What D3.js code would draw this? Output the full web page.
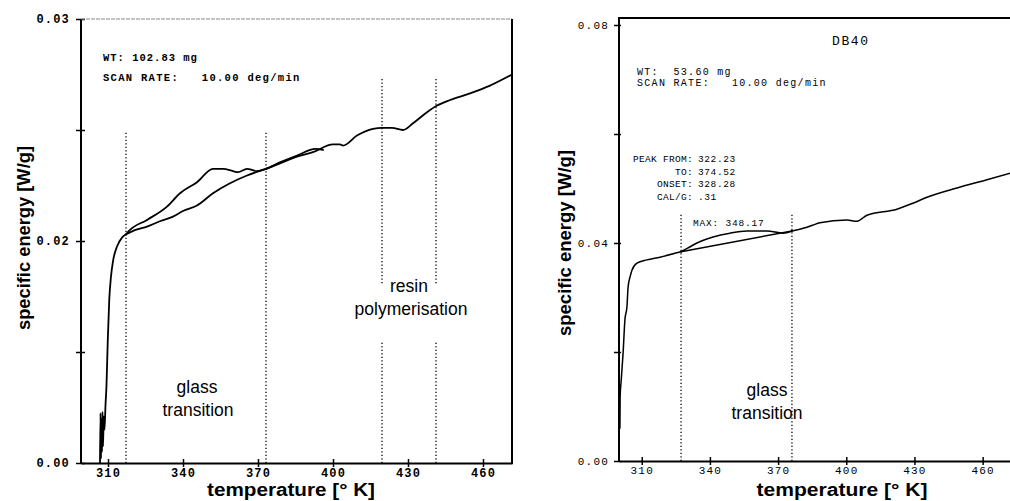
<!DOCTYPE html>
<html>
<head>
<meta charset="utf-8">
<script src="https://cdn.jsdelivr.net/npm/d3@7"></script>
<style>
  body { margin: 0; background: #fff; }
  svg { display: block; }
  .mono { font-family: "Liberation Mono", "DejaVu Sans Mono", monospace; }
  .sans { font-family: "Liberation Sans", Arial, sans-serif; }
</style>
</head>
<body>
<div id="container"></div>
<script>
let w = 1010;
let h = 501;

// ---- data ----
let xTicks = [310, 340, 370, 400, 430, 460];

// left scan (two runs sharing rise and tail)
let leftYTicks = [0, 0.01, 0.02, 0.03, 0.04];
let leftYLabels = ["0.00", "", "0.02", "", "0.03"];
let leftRise = [[306.8,0.0000],[307.0,0.0045],[307.2,0.0004],[307.4,0.0040],[307.6,0.0010],[307.8,0.0046],
  [308.0,0.0015],[308.3,0.0042],[308.6,0.0030],[309.0,0.0052],[309.4,0.0070],[309.9,0.0110],[310.5,0.0147],
  [311.2,0.0168],[312.1,0.0183],[313.6,0.0195],[315.6,0.0203],[317.2,0.0206]];
let leftLower = [[317.2,0.0206],[321.0,0.0210],[325.6,0.0213],[331.0,0.0218],[336.0,0.0222],[340.0,0.0227],
  [345.6,0.0232],[352.0,0.0243],[358.8,0.0252],[365.6,0.0259],[373.2,0.0265]];
let leftUpper = [[317.2,0.0206],[318.8,0.0210],[325.6,0.0219],[333.6,0.0231],[338.8,0.0243],[345.6,0.0253],
  [352.0,0.0265],[356.0,0.0265],[360.0,0.0263],[362.0,0.0262],[365.6,0.0265],[369.6,0.0263],[373.2,0.0265],
  [379.0,0.0271],[385.6,0.0277],[393.0,0.0283],[396.0,0.0282]];
let leftTail = [[373.2,0.0265],[378.8,0.0270],[385.6,0.0276],[392.0,0.0280],[400.0,0.0287],[402.8,0.0287],
  [404.0,0.0286],[409.6,0.0295],[416.0,0.0301],[419.6,0.0302],[423.6,0.0302],[428.0,0.0300],[432.0,0.0306],
  [437.6,0.0316],[441.6,0.0322],[446.8,0.0327],[454.8,0.0333],[462.8,0.0340],[471.6,0.0350]];
// dotted markers: [temperature, from, to]
let leftMarkers = [[317.2,0,0.0298],[373.2,0,0.0298],[419.6,0,0.0109],[419.6,0.0162,0.0348],
  [441.2,0,0.0109],[441.2,0.0162,0.0348]];

// right scan (DB40)
let rightYTicks = [0, 0.02, 0.04, 0.06, 0.08];
let rightYLabels = ["0.00", "", "0.04", "", "0.08"];
let rightRise = [[300.4,0.0060],[300.5,0.0117],[301.0,0.0150],[301.8,0.0198],[302.6,0.0259],[303.5,0.0283],
  [304.0,0.0319],[305.0,0.0340],[305.7,0.0350],[307.9,0.0363],[312.3,0.0369],[318.0,0.0374],[325.5,0.0382],
  [327.3,0.0384]];
let rightPeak = [[327.3,0.0384],[330.0,0.0390],[334.3,0.0400],[341.4,0.0411],[348.8,0.0418],[356.3,0.0422],
  [365.1,0.0422],[372.2,0.0418],[376.1,0.0422]];
let rightBase = [[327.3,0.0384],[376.1,0.0422]];
let rightTail = [[376.1,0.0422],[382.7,0.0429],[385.4,0.0433],[388.4,0.0437],[400.3,0.0442],[404.7,0.0440],
  [409.1,0.0451],[422.3,0.0462],[429.3,0.0473],[435.5,0.0484],[448.7,0.0501],[461.9,0.0516],[473.8,0.0530]];
let rightMarkers = [[327.3,0,0.0455],[376.1,0,0.0455]];

let viz = d3.select("#container")
  .append("svg")
    .attr("width", w)
    .attr("height", h)
;

function monoText(x, y, str, size, bold, spacing, anchor){
  return viz.append("text").classed("mono", true)
    .attr("x", x).attr("y", y)
    .attr("font-size", size)
    .attr("font-weight", bold ? "bold" : "normal")
    .attr("letter-spacing", spacing)
    .attr("text-anchor", anchor || "start")
    .attr("xml:space", "preserve")
    .text(str);
}

function sansText(x, y, str, size, bold, len, rot){
  let t = viz.append("text").classed("sans", true)
    .attr("font-size", size)
    .attr("font-weight", bold ? "bold" : "normal")
    .attr("text-anchor", "middle")
    .text(str);
  if (len) t.attr("textLength", len).attr("lengthAdjust", "spacingAndGlyphs");
  if (rot) t.attr("transform", "translate(" + x + "," + y + ") rotate(-90)");
  else t.attr("x", x).attr("y", y);
  return t;
}

function drawPanel(p){
  let xScale = d3.scaleLinear().domain(p.xDomain).range(p.xRange);
  let yScale = d3.scaleLinear().domain(p.yDomain).range(p.yRange);

  // dotted markers
  viz.append("g").selectAll("line").data(p.markers).enter().append("line")
    .attr("x1", d => xScale(d[0])).attr("x2", d => xScale(d[0]))
    .attr("y1", d => yScale(d[1])).attr("y2", d => yScale(d[2]))
    .attr("stroke", "#000").attr("stroke-width", 1.3)
    .attr("stroke-dasharray", "1.3,2.2");

  // x axis
  let xAxis = d3.axisBottom(xScale).tickValues(xTicks).tickSize(4).tickSizeOuter(0)
    .tickPadding(p.xPad).tickFormat(d3.format("d"));
  let xg = viz.append("g").attr("transform", "translate(0," + p.yRange[0] + ")").call(xAxis);
  xg.select(".domain").attr("stroke-width", 2);
  xg.selectAll("line").attr("y1", -4).attr("stroke-width", 1.5);
  xg.selectAll("text").classed("mono", true).attr("font-family", null)
    .attr("font-size", p.tickFont).attr("font-weight", p.tickBold ? "bold" : "normal")
    .attr("letter-spacing", p.tickSpacing).attr("fill", "#000");

  // y axis
  let yAxis = d3.axisLeft(yScale).tickValues(p.yTicks).tickSize(5).tickSizeOuter(0)
    .tickPadding(p.yPad).tickFormat((d, i) => p.yLabels[i]);
  let yg = viz.append("g").attr("transform", "translate(" + p.xRange[0] + ",0)").call(yAxis);
  yg.select(".domain").attr("stroke-width", 2);
  yg.selectAll("line").attr("x1", p.yTickIn).attr("stroke-width", 1.5);
  yg.selectAll("text").classed("mono", true).attr("font-family", null)
    .attr("font-size", p.tickFont).attr("font-weight", p.tickBold ? "bold" : "normal")
    .attr("letter-spacing", p.tickSpacing).attr("fill", "#000");
  yg.select(".domain").attr("d", "M0," + p.yRange[0] + "V" + p.frameTop);

  // curves
  let line = d3.line().x(d => xScale(d[0])).y(d => yScale(d[1])).curve(d3.curveMonotoneX);
  p.curves.forEach(function(c){
    viz.append("path").attr("d", line(c)).attr("fill", "none")
      .attr("stroke", "#000").attr("stroke-width", p.curveWidth)
      .attr("stroke-linejoin", "round").attr("stroke-linecap", "round");
  });
  return {x: xScale, y: yScale};
}

// left panel
let L = drawPanel({
  xDomain: [299.2, 471.6], xRange: [81, 512],
  yDomain: [0, 0.04], yRange: [463, 19], frameTop: 19,
  yTicks: leftYTicks, yLabels: leftYLabels, yTickIn: 4, yPad: 6, xPad: 1,
  tickFont: 12, tickBold: true, tickSpacing: 1.2,
  markers: leftMarkers, curves: [leftRise, leftLower, leftUpper, leftTail], curveWidth: 1.8
});
viz.append("line").attr("x1", 81).attr("x2", 512).attr("y1", 19).attr("y2", 19)
  .attr("stroke", "#888").attr("stroke-width", 1).attr("stroke-dasharray", "4,1");
viz.append("line").attr("x1", 512).attr("x2", 512).attr("y1", 19).attr("y2", 464)
  .attr("stroke", "#000").attr("stroke-width", 2);

monoText(103, 61, "WT: 102.83 mg", 10.5, true, 1.0);
monoText(103, 81, "SCAN RATE:   10.00 deg/min", 10.5, true, 1.3);

sansText(197, 393, "glass", 17.5);
sansText(198, 416, "transition", 17.5);
sansText(409, 292, "resin", 17.5);
sansText(411, 315, "polymerisation", 17.5);

sansText(291, 496, "temperature [° K]", 18, true, 168);
sansText(30, 238, "specific energy [W/g]", 19, true, 184, true);

// right panel
let R = drawPanel({
  xDomain: [300, 473.8], xRange: [619, 1014],
  yDomain: [0, 0.08], yRange: [461, 25], frameTop: 18,
  yTicks: rightYTicks, yLabels: rightYLabels, yTickIn: 2, yPad: 5, xPad: 1,
  tickFont: 11, tickBold: false, tickSpacing: 1.2,
  markers: rightMarkers, curves: [rightRise, rightPeak, rightBase, rightTail], curveWidth: 1.5
});
viz.append("line").attr("x1", 618).attr("x2", 1010).attr("y1", 18).attr("y2", 18)
  .attr("stroke", "#000").attr("stroke-width", 2);

monoText(832, 45, "DB40", 13, false, 1.6);
monoText(637, 75, "WT:  53.60 mg", 10, false, 1.3);
monoText(637, 86, "SCAN RATE:   10.00 deg/min", 10, false, 1.3);

let peakLabels = ["PEAK FROM:", "TO:", "ONSET:", "CAL/G:"];
let peakValues = ["322.23", "374.52", "328.28", ".31"];
peakLabels.forEach(function(lab, i){
  monoText(693, 162 + i * 12.7, lab, 9.5, false, 0.3, "end");
  monoText(698, 162 + i * 12.7, peakValues[i], 9.5, false, 0.6);
});
monoText(693, 226, "MAX: 348.17", 9.5, false, 0.8);

sansText(767, 396, "glass", 17.5);
sansText(767, 419, "transition", 17.5);

sansText(842, 496, "temperature [° K]", 18, true, 171);
sansText(571, 243, "specific energy [W/g]", 19, true, 186, true);
</script>
</body>
</html>
